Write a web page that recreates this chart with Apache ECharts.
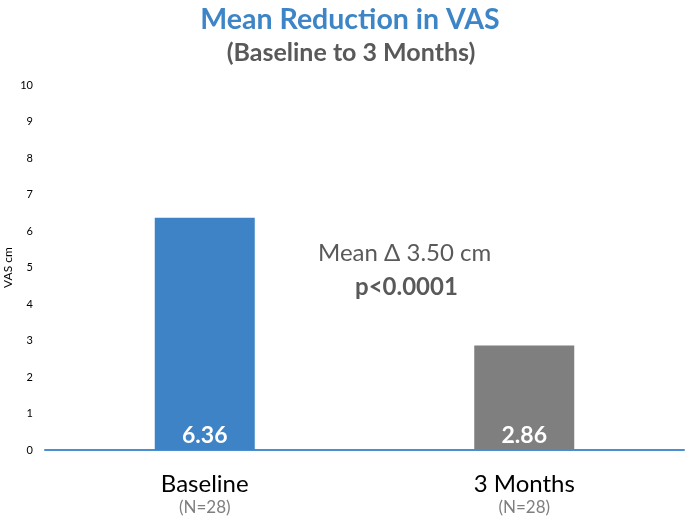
<!DOCTYPE html>
<html><head><meta charset="utf-8">
<script src="https://cdn.jsdelivr.net/npm/echarts@6/dist/echarts.min.js"></script>
<style>html,body{margin:0;padding:0;background:#fff}#c{width:685px;height:520px}</style>
</head><body><div id="c"></div>
<script>
const categories = ['Baseline', '3 Months'];
const sampleSizes = ['(N=28)', '(N=28)'];
const values = [6.36, 2.86];
const barColors = ['#3d83c6', '#7f7f7f'];
const yTicks = [0, 1, 2, 3, 4, 5, 6, 7, 8, 9, 10];
const annotation = ['Mean Δ 3.50 cm', 'p<0.0001'];

const F = 'Lato, "Open Sans", sans-serif';
const chart = echarts.init(document.getElementById('c'));
chart.setOption({
  animation: false,
  title: [
    {text: 'Mean Reduction in VAS', left: 350, textAlign: 'center', top: 0, padding: [5, 0, 5, 0],
     textStyle: {fontFamily: F, fontSize: 28.5, fontWeight: 'bold', color: '#3d85c6'}},
    {text: '(Baseline to 3 Months)', left: 351, textAlign: 'center', top: 35, padding: [5, 0, 5, 0],
     textStyle: {fontFamily: F, fontSize: 25, fontWeight: 'bold', color: '#595959'}}
  ],
  grid: {left: 45, right: 1, top: 85, bottom: 70, containLabel: false, outerBoundsMode: 'none'},
  xAxis: {
    type: 'category', data: categories,
    axisLine: {lineStyle: {color: '#4a8fd0', width: 2}},
    axisTick: {show: false},
    axisLabel: {
      margin: 22, fontFamily: F,
      formatter: (v, i) => '{a|' + v + '}\n{n|' + sampleSizes[i] + '}',
      rich: {
        a: {fontSize: 24, color: '#000', fontFamily: F, lineHeight: 25},
        n: {fontSize: 17, color: '#7f7f7f', fontFamily: F, lineHeight: 21}
      }
    }
  },
  yAxis: {
    type: 'value', min: yTicks[0], max: yTicks[yTicks.length - 1], interval: 1,
    name: 'VAS cm', nameLocation: 'middle', nameGap: 31, nameRotate: 90,
    nameMoveOverlap: false,
    nameTextStyle: {fontFamily: F, fontSize: 12, color: '#000'},
    axisLine: {show: false}, axisTick: {show: false}, splitLine: {show: false},
    axisLabel: {fontFamily: F, fontSize: 11, color: '#000', margin: 12}
  },
  series: [{
    type: 'bar', barWidth: 100,
    data: values.map((v, i) => ({value: v, itemStyle: {color: barColors[i]}})),
    label: {show: true, position: 'insideBottom', distance: 3,
      fontFamily: F, fontSize: 23, fontWeight: 'bold', color: '#fff',
      formatter: p => p.value.toFixed(2)}
  }],
  graphic: [
    {type: 'text', left: 318, top: 241,
     style: {text: annotation[0], font: '24px ' + F, fill: '#595959'}},
    {type: 'text', left: 355, top: 275,
     style: {text: annotation[1], font: 'bold 24px ' + F, fill: '#595959'}}
  ]
});
</script></body></html>
